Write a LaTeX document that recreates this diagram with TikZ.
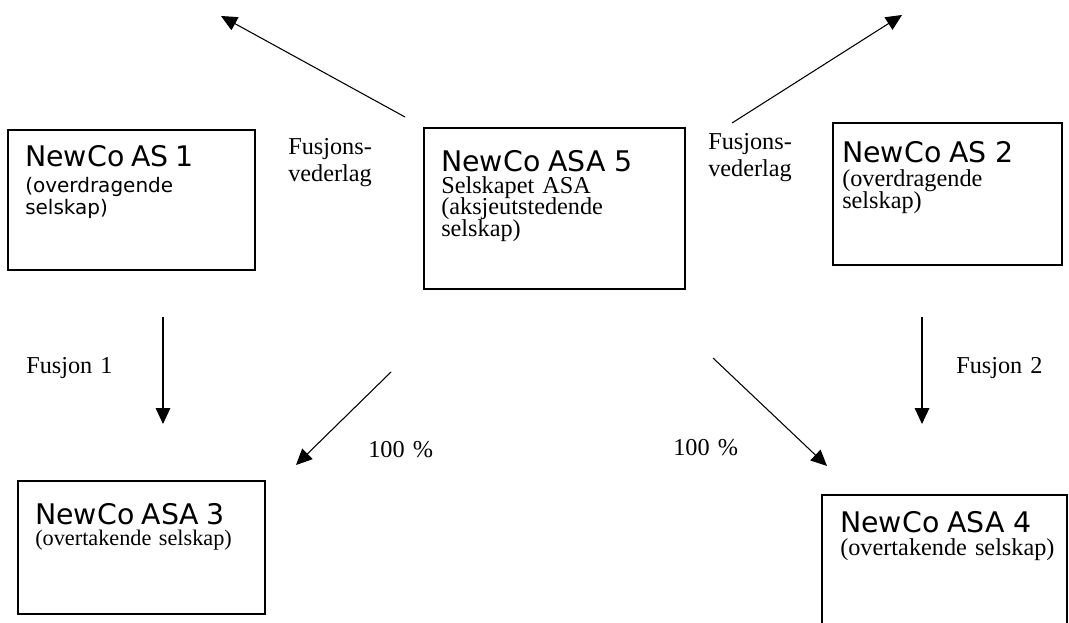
\documentclass[tikz,border=0pt]{standalone}
\usepackage{fontspec}
\setmainfont{Liberation Serif}
\newfontfamily\vfont{DejaVu Sans}
\usetikzlibrary{arrows.meta,fit,calc}
\newcommand{\tightlead}{\lineskiplimit=-20pt\relax}
\newcommand{\boxtitle}[1]{{\vfont\fontsize{21.3}{16.4}\selectfont #1}}

\begin{document}
\begin{tikzpicture}[x=0.75pt,y=-0.75pt,
				box/.style={draw,line width=0.9pt,rectangle,inner sep=0pt},
				boxtext/.style={anchor=base west,inner sep=0pt,text width=180pt,align=left,font=\fontsize{18.2}{16.4}\selectfont\tightlead},
				lbl/.style={anchor=base west,inner sep=0pt,text width=90pt,align=left,font=\fontsize{18.2}{20}\selectfont},
				arr/.style={line width=0.8pt,-{Triangle[length=12pt,width=11pt]}}]
			\useasboundingbox (0,0) rectangle (1069,623);
			% boxes
			\node [box,fit={(8,130) (255,270)}] (as1) {};
			\node [box,fit={(424,128) (685,289)}] (asa5) {};
			\node [box,fit={(833,123) (1062,265)}] (as2) {};
			\node [box,fit={(18,481) (265,614)}] (asa3) {};
			\node [box,fit={(822,495) (1067,650)}] (asa4) {};
			% texts in the boxes
			\node [boxtext,font=\vfont\fontsize{15}{16.5}\selectfont\tightlead] (as1text) at (25,167)
				{\boxtitle{NewCo AS 1}\\[3pt](overdragende\\selskap)};
			\node [boxtext] (asa5text) at (441,172)
				{\boxtitle{NewCo ASA 5}\\[-0.6pt]Selskapet ASA\\(aksjeutstedende\\selskap)};
			\node [boxtext] (as2text) at (842,163)
				{\boxtitle{NewCo AS 2}\\[1.6pt](overdragende\\selskap)};
			\node [boxtext,font=\fontsize{16.7}{16.4}\selectfont\tightlead] (asa3text) at (35,524)
				{\boxtitle{NewCo ASA 3}\\[-0.6pt](overtakende selskap)};
			\node [boxtext] (asa4text) at (840,532)
				{\boxtitle{NewCo ASA 4}\\[0.9pt](overtakende selskap)};
			% arrow ends
			\coordinate (vl1) at (405,117);
			\coordinate (vl2) at (221,16);
			\coordinate (vr1) at (732,123);
			\coordinate (vr2) at (902,15);
			\coordinate (fa1) at (163,317);
			\coordinate (fa2) at (163,424);
			\coordinate (fb1) at (922,317);
			\coordinate (fb2) at (922,424);
			\coordinate (pa1) at (391,372);
			\coordinate (pa2) at (296,465);
			\coordinate (pb1) at (713,358);
			\coordinate (pb2) at (827,466);
			\draw [arr] (vl1) -- (vl2);
			\draw [arr] (vr1) -- (vr2);
			\draw [arr] (fa1) -- (fa2);
			\draw [arr] (fb1) -- (fb2);
			\draw [arr] (pa1) -- (pa2);
			\draw [arr] (pb1) -- (pb2);
			% labels
			\node [lbl,text width=100pt] (vlabel1) at (288,155) {Fusjons-\\vederlag};
			\node [lbl,text width=100pt] (vlabel2) at (708,150) {Fusjons-\\vederlag};
			\node [lbl] (flabel1) at (26,373) {Fusjon 1};
			\node [lbl] (flabel2) at (956,373) {Fusjon 2};
			\node [lbl] (plabel1) at (368,457) {100 \%};
			\node [lbl] (plabel2) at (673,455) {100 \%};
		\end{tikzpicture}
\end{document}
